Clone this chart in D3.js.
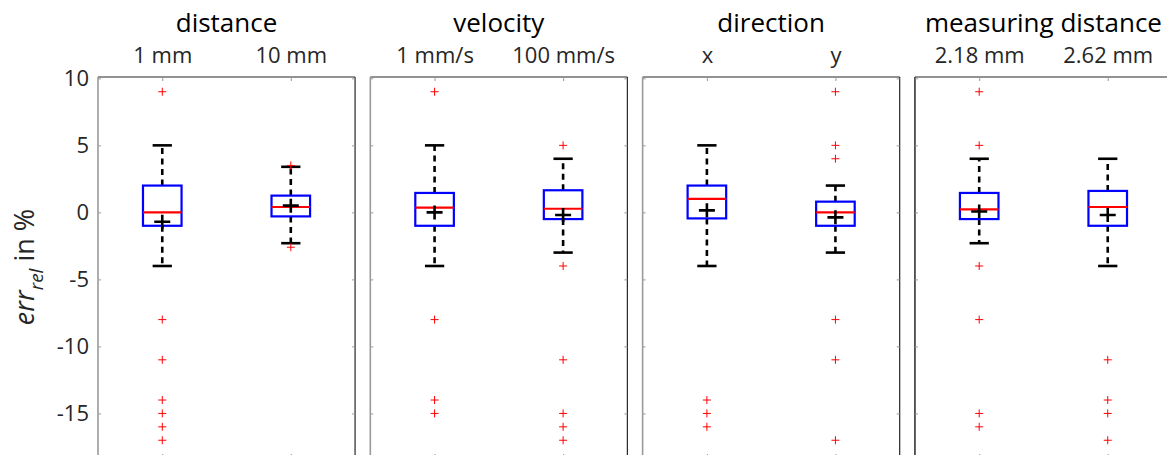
<!DOCTYPE html>
<html>
<head>
<meta charset="utf-8">
<script src="https://cdn.jsdelivr.net/npm/d3@7"></script>
<style>
  body { margin: 0; background: #fff; }
  svg { display: block; font-family: "Open Sans", sans-serif; }
</style>
</head>
<body>
<div id="chart"></div>
<script>
// Groups and categories
var groupTitles = ["distance", "velocity", "direction", "measuring distance"];
var categoryLabels = [
  ["1 mm", "10 mm"],
  ["1 mm/s", "100 mm/s"],
  ["x", "y"],
  ["2.18 mm", "2.62 mm"]
];

// Box statistics, one value per box (8 boxes, two per group)
var whiskerHigh = [5.0, 3.4, 5.0, 4.0, 5.0, 2.0, 4.0, 4.0];
var upperQuartile = [2.0, 1.25, 1.45, 1.65, 2.0, 0.8, 1.45, 1.6];
var medians = [0.0, 0.4, 0.35, 0.27, 1.0, 0.0, 0.22, 0.4];
var lowerQuartile = [-1.0, -0.3, -1.0, -0.5, -0.45, -1.0, -0.5, -1.0];
var whiskerLow = [-4.0, -2.3, -4.0, -3.0, -4.0, -3.0, -2.3, -4.0];
var means = [-0.7, 0.5, 0.0, -0.2, 0.15, -0.37, 0.07, -0.2];
var outliers = [
  [9, -8, -11, -14, -15, -16, -17],
  [3.5, -2.6],
  [9, -8, -14, -15],
  [5, -4, -11, -15, -16, -17],
  [-14, -15, -16],
  [9, 5, 4, -8, -11, -17],
  [9, 5, -4, -8, -15, -16],
  [-11, -14, -15, -17]
];

// Y ticks
var yTicks = [-15, -10, -5, 0, 5, 10];

// Chart size
var width = 1167;
var height = 455;

var svg = d3.select("#chart")
  .append("svg")
  .attr("width", width)
  .attr("height", height);

// Panel placement
var panelScale = d3.scaleBand()
  .domain(groupTitles)
  .range([98, 1172])
  .paddingInner(0.056)
  .paddingOuter(0);

var panelWidth = panelScale.bandwidth();

var yScale = d3.scaleLinear()
  .domain([-18.4, 10.1])
  .range([459, 77]);

var frameTop = yScale.range()[1];
var frameBottom = yScale.range()[0];

var leftEdgeColor = ["#9a9a9a", "#9a9a9a", "#9a9a9a", "#333"];

groupTitles.forEach(function (title, gi) {
  var g = svg.append("g")
    .attr("transform", "translate(" + panelScale(title) + ",0)");

  var xScale = d3.scalePoint()
    .domain(categoryLabels[gi])
    .range([0, panelWidth])
    .padding(0.5);

  var step = xScale.step();
  var boxHalf = step * 0.15;
  var capHalf = step * 0.075;

  // Frame
  g.append("line")
    .attr("x1", 0).attr("x2", panelWidth)
    .attr("y1", frameTop).attr("y2", frameTop)
    .attr("stroke", "#262626").attr("stroke-width", 1.2);
  g.append("line")
    .attr("x1", panelWidth).attr("x2", panelWidth)
    .attr("y1", frameTop).attr("y2", frameBottom)
    .attr("stroke", "#262626").attr("stroke-width", 1.2);
  g.append("line")
    .attr("x1", 0).attr("x2", 0)
    .attr("y1", frameTop).attr("y2", frameBottom)
    .attr("stroke", leftEdgeColor[gi]).attr("stroke-width", 1.6);

  // Top axis with category labels
  var topAxis = g.append("g")
    .attr("transform", "translate(0," + frameTop + ")")
    .call(d3.axisTop(xScale).tickSizeInner(-4).tickSizeOuter(0).tickPadding(14));
  topAxis.select(".domain").remove();
  topAxis.selectAll("line").attr("stroke", "#999");
  topAxis.selectAll("text")
    .attr("font-size", 22)
    .attr("fill", "#262626")
    .attr("font-family", "Open Sans, sans-serif");

  // Bottom ticks
  var bottomAxis = g.append("g")
    .attr("transform", "translate(0," + frameBottom + ")")
    .call(d3.axisBottom(xScale).tickSizeInner(-5).tickSizeOuter(0).tickFormat(""));
  bottomAxis.select(".domain").remove();
  bottomAxis.selectAll("line").attr("stroke", "#999");

  // Left axis
  var leftAxis = g.append("g")
    .call(d3.axisLeft(yScale).tickValues(yTicks).tickSizeInner(-3).tickSizeOuter(0)
      .tickPadding(9)
      .tickFormat(gi === 0 ? d3.format("d") : ""));
  leftAxis.select(".domain").remove();
  leftAxis.selectAll("line").attr("stroke", "#999");
  leftAxis.selectAll("text")
    .attr("font-size", 22)
    .attr("fill", "#262626")
    .attr("font-family", "Open Sans, sans-serif")
    .text(function (d) { return gi === 0 ? String(d) : ""; });

  // Right axis
  var rightAxis = g.append("g")
    .attr("transform", "translate(" + panelWidth + ",0)")
    .call(d3.axisRight(yScale).tickValues(yTicks).tickSizeInner(-3).tickSizeOuter(0).tickFormat(""));
  rightAxis.select(".domain").remove();
  rightAxis.selectAll("line").attr("stroke", "#999");

  // Group title
  g.append("text")
    .attr("x", panelWidth / 2)
    .attr("y", 32)
    .attr("text-anchor", "middle")
    .attr("font-size", 26)
    .attr("fill", "#000")
    .text(title);

  // Boxes
  categoryLabels[gi].forEach(function (cat, ci) {
    var i = gi * 2 + ci;
    var cx = xScale(cat);

    // Whiskers
    g.append("line")
      .attr("x1", cx).attr("x2", cx)
      .attr("y1", yScale(upperQuartile[i])).attr("y2", yScale(whiskerHigh[i]))
      .attr("stroke", "#000").attr("stroke-width", 2.6)
      .attr("stroke-dasharray", "6,4.5");
    g.append("line")
      .attr("x1", cx).attr("x2", cx)
      .attr("y1", yScale(lowerQuartile[i])).attr("y2", yScale(whiskerLow[i]))
      .attr("stroke", "#000").attr("stroke-width", 2.6)
      .attr("stroke-dasharray", "6,4.5");

    // Whisker caps
    [whiskerHigh[i], whiskerLow[i]].forEach(function (v) {
      g.append("line")
        .attr("x1", cx - capHalf).attr("x2", cx + capHalf)
        .attr("y1", yScale(v)).attr("y2", yScale(v))
        .attr("stroke", "#000").attr("stroke-width", 2.6);
    });

    // Box
    g.append("rect")
      .attr("x", cx - boxHalf)
      .attr("y", yScale(upperQuartile[i]))
      .attr("width", boxHalf * 2)
      .attr("height", yScale(lowerQuartile[i]) - yScale(upperQuartile[i]))
      .attr("fill", "none")
      .attr("stroke", "#0000ff")
      .attr("stroke-width", 2.2);

    // Median
    g.append("line")
      .attr("x1", cx - boxHalf).attr("x2", cx + boxHalf)
      .attr("y1", yScale(medians[i])).attr("y2", yScale(medians[i]))
      .attr("stroke", "#ff0000").attr("stroke-width", 2.2);

    // Outliers
    g.selectAll(null)
      .data(outliers[i])
      .enter()
      .append("path")
      .attr("transform", function (d) { return "translate(" + cx + "," + yScale(d) + ")"; })
      .attr("d", "M-4,0H4M0,-4V4")
      .attr("stroke", "#ff0000")
      .attr("stroke-width", 1);

    // Mean marker
    g.append("path")
      .attr("transform", "translate(" + cx + "," + yScale(means[i]) + ")")
      .attr("d", "M-8,0H8M0,-7V7")
      .attr("stroke", "#000")
      .attr("stroke-width", 2.6);
  });
});

// Y axis label
var yLabel = svg.append("text")
  .attr("transform", "translate(34," + 267 + ") rotate(-90)")
  .attr("text-anchor", "middle")
  .attr("font-size", 27)
  .attr("fill", "#262626");
yLabel.append("tspan").attr("font-style", "italic").text("err");
yLabel.append("tspan").attr("font-style", "italic").attr("font-size", 19).attr("dy", 9).text("rel");
yLabel.append("tspan").attr("dy", -9).text(" in %");
</script>
</body>
</html>
